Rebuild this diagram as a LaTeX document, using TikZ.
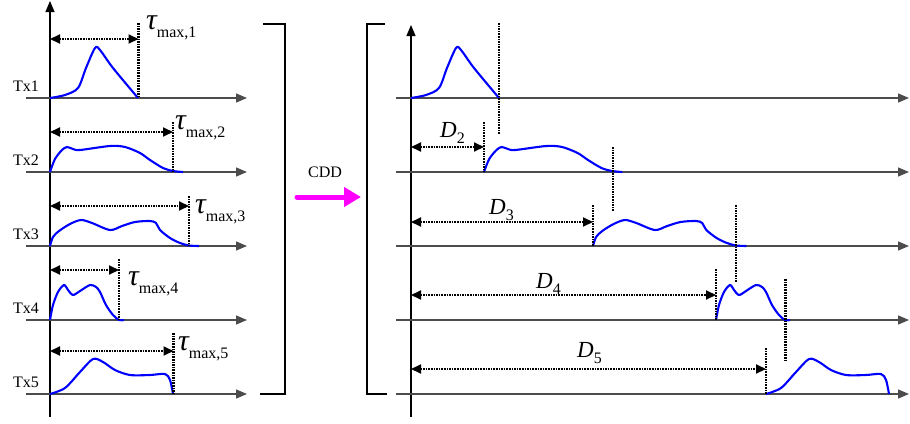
\documentclass[tikz,border=0pt]{standalone}
\usepackage{fontspec}
\setmainfont{Liberation Serif}
\usetikzlibrary{arrows.meta}
\definecolor{cddmag}{RGB}{255,0,255}
\definecolor{pulseblue}{RGB}{0,0,255}

% pulse shapes, relative to the start on the time axis
\newcommand{\pulseone}[2][]{\draw[pulse,shift={#2},#1] plot[smooth,tension=0.5] coordinates {(0,0) (15,-3) (28,-10) (36,-30) (45,-50) (50,-48) (63,-30) (88,0)};}
\newcommand{\pulsetwo}[2][]{\draw[pulse,shift={#2},#1] plot[smooth,tension=0.5] coordinates {(0,0) (5,-13) (12,-22) (17,-25) (23,-23) (30,-22) (60,-26) (75,-25) (90,-19) (100,-12) (113,-4) (123,-1) (133,0)};}
\newcommand{\pulsethree}[2][]{\draw[pulse,shift={#2},#1] plot[smooth,tension=0.5] coordinates {(0,0) (3,-9) (9,-15) (20,-22) (31,-26) (42,-23) (60,-16) (72,-20) (85,-24) (100,-25) (106,-23) (110,-16) (120,-8) (130,-3) (139,-0.5) (149,0)};}
\newcommand{\pulsefour}[2][]{\draw[pulse,shift={#2},#1] plot[smooth,tension=0.5] coordinates {(0,0) (3,-15) (8,-28) (14,-35) (18,-30) (23,-25) (30,-29) (40,-35) (46,-33) (50,-28) (56,-15) (63,-5) (69,0) (74,0)};}
\newcommand{\pulsefive}[2][]{\draw[pulse,shift={#2},#1] plot[smooth,tension=0.5] coordinates {(0,0) (15,-6) (30,-22) (43,-35) (53,-32) (65,-24) (80,-19) (100,-19) (115,-20) (120,-14) (123,0)};}
\newcommand{\taumax}[1]{{\fontsize{30}{30}\selectfont\itshape τ}\raisebox{-8pt}{\fontsize{16}{16}\selectfont max,#1}}
\newcommand{\delay}[1]{{\fontsize{23}{23}\selectfont\itshape D}\raisebox{-6pt}{\fontsize{16}{16}\selectfont #1}}

\begin{document}
\begin{tikzpicture}[x=1pt, y=-1pt,
    axis/.style={draw=black!70, line width=1.4pt, -{Triangle[length=11pt,width=9pt]}},
    yaxis/.style={draw=black, line width=1.2pt, -{Triangle[length=11pt,width=9pt]}},
    pulse/.style={pulseblue, line width=2.1pt, line join=round},
    marker/.style={dash pattern=on 1.6pt off 1pt, line width=2.1pt},
    span/.style={dash pattern=on 1.6pt off 1pt, line width=2pt, {Triangle[length=10pt,width=9pt]}-{Triangle[length=10pt,width=9pt]}},
    bracket/.style={draw=black, line width=1.1pt},
    txlabel/.style={font=\fontsize{16}{16}\selectfont, anchor=base east, inner sep=0pt},
    symlabel/.style={anchor=base west, inner sep=0pt},
    cddarrow/.style={cddmag, line width=5pt, line cap=round, -{Triangle[length=17pt,width=19pt]}}
]
    \useasboundingbox (0,0) rectangle (910,423);

    % Left panel: channel profiles
    \coordinate (lo) at (50,417);
    \coordinate (ltop) at (50,1);
    \draw[yaxis] (lo) -- (ltop);
    \coordinate (l1a) at (26,98);  \coordinate (l1b) at (247,98);
    \coordinate (l2a) at (26,172); \coordinate (l2b) at (247,172);
    \coordinate (l3a) at (26,246); \coordinate (l3b) at (247,246);
    \coordinate (l4a) at (26,320); \coordinate (l4b) at (247,320);
    \coordinate (l5a) at (26,394); \coordinate (l5b) at (247,394);
    \draw[axis] (l1a) -- (l1b);
    \draw[axis] (l2a) -- (l2b);
    \draw[axis] (l3a) -- (l3b);
    \draw[axis] (l4a) -- (l4b);
    \draw[axis] (l5a) -- (l5b);

    \node[txlabel] (tx1) at (39,91) {Tx1};
    \node[txlabel] (tx2) at (39,165) {Tx2};
    \node[txlabel] (tx3) at (39,239) {Tx3};
    \node[txlabel] (tx4) at (39,313) {Tx4};
    \node[txlabel] (tx5) at (39,387) {Tx5};

    \pulseone{(50,98)}
    \pulsetwo{(50,172)}
    \pulsethree{(50,246)}
    \pulsefour{(50,320)}
    \pulsefive{(50,394)}

    \draw[marker] (138.5,23) -- (138.5,98);
    \draw[marker] (173,122) -- (173,172);
    \draw[marker] (189,196) -- (189,246);
    \draw[marker] (119,259) -- (119,320);
    \draw[marker] (173.5,333) -- (173.5,394);

    \coordinate (t1a) at (50,39);  \coordinate (t1b) at (138.5,39);
    \coordinate (t2a) at (50,132); \coordinate (t2b) at (173,132);
    \coordinate (t3a) at (50,206); \coordinate (t3b) at (189,206);
    \coordinate (t4a) at (50,270); \coordinate (t4b) at (119,270);
    \coordinate (t5a) at (50,351); \coordinate (t5b) at (173.5,351);
    \draw[span] (t1a) -- (t1b);
    \draw[span] (t2a) -- (t2b);
    \draw[span] (t3a) -- (t3b);
    \draw[span] (t4a) -- (t4b);
    \draw[span] (t5a) -- (t5b);

    \node[symlabel] (tau1) at (146,29) {\taumax{1}};
    \node[symlabel] (tau2) at (175,129) {\taumax{2}};
    \node[symlabel] (tau3) at (195,213) {\taumax{3}};
    \node[symlabel] (tau4) at (128,285) {\taumax{4}};
    \node[symlabel] (tau5) at (178,350) {\taumax{5}};

    \draw[bracket] (263,24) -- (285,24) -- (285,394) -- (260,394);

    % CDD step
    \coordinate (cdda) at (297,197);
    \coordinate (cddb) at (361,197);
    \draw[cddarrow] (cdda) -- (cddb);
    \node[font=\fontsize{16}{16}\selectfont] (cdd) at (325,172) {CDD};

    % Right panel: delayed profiles
    \draw[bracket] (385,24) -- (367,24) -- (367,394) -- (387,394);
    \coordinate (ro) at (411,417);
    \coordinate (rtop) at (411,25);
    \draw[yaxis] (ro) -- (rtop);
    \coordinate (r1a) at (396,98);  \coordinate (r1b) at (909,98);
    \coordinate (r2a) at (396,172); \coordinate (r2b) at (909,172);
    \coordinate (r3a) at (396,246); \coordinate (r3b) at (909,246);
    \coordinate (r4a) at (396,320); \coordinate (r4b) at (909,320);
    \coordinate (r5a) at (396,394); \coordinate (r5b) at (909,394);
    \draw[axis] (r1a) -- (r1b);
    \draw[axis] (r2a) -- (r2b);
    \draw[axis] (r3a) -- (r3b);
    \draw[axis] (r4a) -- (r4b);
    \draw[axis] (r5a) -- (r5b);

    \pulseone{(411,98)}
    \pulsetwo[xscale=1.04]{(484,172)}
    \pulsethree[xscale=1.03]{(593,246)}
    \pulsefour{(716,320)}
    \pulsefive{(766,394)}

    \draw[marker] (499,23) -- (499,134);
    \draw[marker] (484,122) -- (484,172);
    \draw[marker] (613,147) -- (613,212);
    \draw[marker] (593,205) -- (593,246);
    \draw[marker] (736,205) -- (736,282);
    \draw[marker] (716,269) -- (716,320);
    \draw[marker] (785.5,279) -- (785.5,361);
    \draw[marker] (766,348) -- (766,394);

    \coordinate (d2a) at (411,147); \coordinate (d2b) at (484,147);
    \coordinate (d3a) at (411,222); \coordinate (d3b) at (593,222);
    \coordinate (d4a) at (411,295); \coordinate (d4b) at (716,295);
    \coordinate (d5a) at (411,369); \coordinate (d5b) at (766,369);
    \draw[span] (d2a) -- (d2b);
    \draw[span] (d3a) -- (d3b);
    \draw[span] (d4a) -- (d4b);
    \draw[span] (d5a) -- (d5b);

    \node[symlabel] (del2) at (440,137) {\delay{2}};
    \node[symlabel] (del3) at (489,214) {\delay{3}};
    \node[symlabel] (del4) at (536,288) {\delay{4}};
    \node[symlabel] (del5) at (577,357) {\delay{5}};
\end{tikzpicture}
\end{document}
